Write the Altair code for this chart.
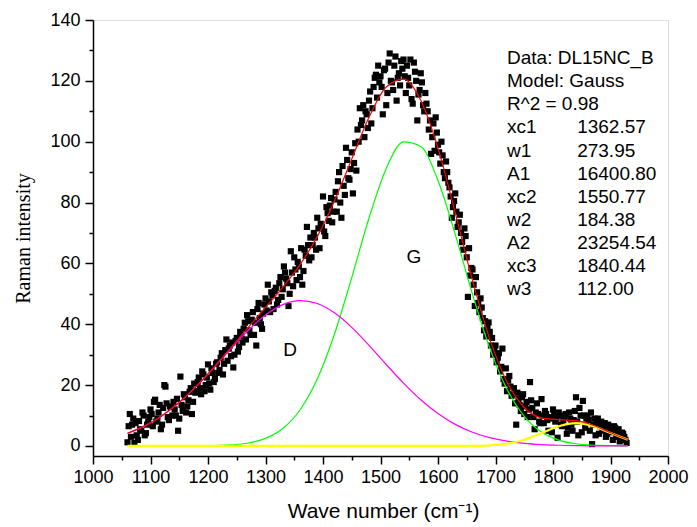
import altair as alt
import pandas as pd

curve_x = [1060, 1090, 1120, 1150, 1180, 1210, 1240, 1270, 1300, 1330,
           1360, 1390, 1420, 1450, 1480, 1510, 1540, 1570, 1600, 1630,
           1660, 1690, 1720, 1750, 1780, 1810, 1840, 1870, 1900, 1930]
peak_d = [4.17, 6.60, 9.96, 14.33, 19.65, 25.69, 32.01, 38.02, 43.04, 46.44,
          47.76, 46.82, 43.75, 38.97, 33.08, 26.77, 20.64, 15.18, 10.64, 7.10,
          4.52, 2.74, 1.59, 0.87, 0.46, 0.23, 0.11, 0.05, 0.02, 0.01]
peak_g = [0.00, 0.00, 0.00, 0.01, 0.03, 0.11, 0.34, 0.97, 2.49, 5.72,
          11.82, 21.99, 36.79, 55.35, 74.93, 91.23, 99.92, 98.44, 87.23, 69.53,
          49.86, 32.16, 18.66, 9.74, 4.57, 1.93, 0.73, 0.25, 0.08, 0.02]
peak_3 = [0.00, 0.00, 0.00, 0.00, 0.00, 0.00, 0.00, 0.00, 0.00, 0.00,
          0.00, 0.00, 0.00, 0.00, 0.00, 0.00, 0.00, 0.00, 0.00, 0.01,
          0.04, 0.20, 0.74, 2.04, 4.19, 6.47, 7.50, 6.52, 4.26, 2.09]
fit_total = [4.17, 6.60, 9.96, 14.34, 19.68, 25.80, 32.35, 38.99, 45.53, 52.16,
             59.58, 68.81, 80.54, 94.32, 108.01, 118.00, 120.56, 113.62, 97.87, 76.64,
             54.42, 35.10, 20.99, 12.65, 9.22, 8.63, 8.34, 6.82, 4.36, 2.12]

# ---- measured spectrum (black squares) ----
pts_x_a = list(range(1060, 1929, 4))
pts_y_a = [
    1.2, 10.5, 7.0, 1.0, 3.5, 8.2, 5.0, 10.0, 4.2, 8.0,
    12.0, 6.5, 15.2, 9.0, 13.5, 7.0, 20.0, 14.0, 8.5, 12.8,
    14.5, 10.0, 5.0, 22.8, 11.5, 16.0, 13.0, 17.8, 10.5, 20.5,
    18.0, 22.5, 17.0, 23.5, 20.0, 26.8, 18.5, 24.0, 22.0, 27.5,
    25.0, 30.5, 27.0, 35.0, 32.0, 29.5, 25.8, 34.5, 31.0, 37.5,
    34.0, 40.5, 43.0, 38.0, 41.5, 36.5, 33.0, 47.0, 40.0, 43.5,
    48.5, 53.0, 44.0, 49.5, 51.0, 46.5, 53.5, 49.0, 59.0, 55.0,
    46.0, 64.0, 52.5, 58.0, 60.5, 55.5, 53.0, 64.5, 72.0, 61.0,
    62.0, 70.0, 64.5, 71.5, 73.0, 82.0, 69.0, 76.5, 79.0, 73.5,
    81.0, 77.0, 90.0, 75.0, 85.5, 98.0, 88.0, 91.0, 83.0, 99.5,
    104.0, 111.0, 107.0, 101.5, 109.0, 113.5, 106.0, 118.0, 122.0, 125.0,
    121.5, 109.0, 124.0, 116.0, 129.0, 119.5, 125.0, 113.5, 122.5, 126.5,
    127.0, 116.0, 121.0, 127.0, 112.5, 123.0, 107.0, 117.0, 119.5, 110.0,
    112.5, 104.0, 96.0, 106.0, 108.0, 99.0, 92.8, 95.5, 88.0, 90.0,
    85.0, 75.0, 80.5, 77.0, 73.5, 70.0, 64.5, 69.0, 49.0, 56.0,
    58.0, 46.0, 50.5, 44.0, 45.5, 38.0, 36.0, 40.6, 33.0, 30.0,
    33.0, 29.0, 24.5, 32.0, 20.5, 18.0, 23.0, 16.5, 19.0, 7.0,
    15.5, 11.5, 17.0, 13.0, 9.5, 21.0, 12.5, 5.5, 14.0, 8.0,
    15.4, 7.5, 10.5, 5.0, 9.0, 12.0, 8.0, 2.7, 10.0, 6.5,
    9.5, 4.0, 11.0, 7.0, 8.5, 16.0, 3.5, 10.0, 14.8, 6.0,
    10.0, 5.0, 0.6, 9.0, 7.5, 4.0, 8.0, 6.0, 3.0, 7.0,
    5.5, 2.0, 6.0, 4.5, 1.5, 4.4, 3.0, 1.0,
]
pts_x_b = list(range(1062, 1927, 4))
pts_y_b = [
    6.5, 3.0, 9.0, 7.5, 2.0, 5.5, 11.0, 3.5, 7.0, 9.5,
    10.5, 14.5, 8.0, 11.0, 5.5, 12.5, 19.5, 9.5, 13.0, 10.0,
    12.0, 15.5, 9.0, 13.5, 17.0, 11.0, 15.0, 19.0, 14.5, 17.5,
    21.0, 19.0, 24.5, 18.0, 22.5, 20.5, 25.5, 21.0, 27.0, 24.0,
    29.0, 23.5, 31.5, 28.0, 33.0, 34.0, 30.0, 35.5, 32.5, 36.0,
    38.5, 35.0, 41.0, 36.5, 44.0, 40.5, 45.0, 42.0, 38.5, 46.5,
    44.5, 47.5, 50.5, 45.0, 52.0, 48.0, 55.5, 51.5, 57.0, 53.5,
    50.0, 57.0, 62.0, 54.5, 59.0, 65.0, 57.5, 62.5, 66.0, 68.5,
    66.0, 68.5, 75.0, 65.0, 72.0, 70.5, 78.5, 74.0, 81.5, 77.0,
    83.5, 87.0, 80.0, 92.0, 82.5, 94.0, 87.5, 96.5, 93.0, 90.5,
    100.0, 105.5, 112.0, 110.0, 104.5, 116.5, 111.0, 121.0, 114.5, 119.5,
    118.0, 123.5, 112.0, 126.0, 120.0, 117.0, 128.0, 121.0, 118.5, 124.0,
    121.5, 125.0, 118.5, 114.0, 126.0, 120.0, 115.5, 122.5, 112.0, 116.0,
    110.0, 107.0, 101.5, 97.0, 103.0, 96.5, 100.0, 90.0, 93.5, 86.5,
    82.0, 78.5, 83.0, 72.0, 76.0, 67.0, 71.5, 62.0, 65.0, 58.5,
    53.0, 55.5, 47.0, 48.5, 42.0, 41.0, 39.0, 37.5, 35.5, 31.5,
    27.5, 30.5, 26.0, 22.0, 25.5, 21.5, 19.5, 17.0, 14.0, 17.5,
    13.5, 16.0, 10.5, 14.5, 12.0, 15.0, 9.5, 11.0, 10.5, 7.5,
    10.0, 11.5, 8.5, 9.5, 4.5, 10.5, 9.0, 11.0, 7.0, 8.5,
    10.5, 6.0, 9.0, 5.0, 11.5, 8.0, 12.5, 4.5, 10.0, 9.0,
    8.5, 11.0, 7.0, 3.5, 9.0, 6.5, 5.0, 7.5, 4.0, 6.0,
    4.5, 6.5, 3.0, 5.5, 2.5, 4.0, 2.0,
]

# ---- text ----
ann_labels = ["Data: DL15NC_B", "Model: Gauss", "R^2 = 0.98", "xc1", "w1", "A1",
              "xc2", "w2", "A2", "xc3", "w3"]
ann_values = ["", "", "", "1362.57", "273.95", "16400.80", "1550.77", "184.38",
              "23254.54", "1840.44", "112.00"]
peak_names = ["D", "G"]
peak_pos_x = [1343, 1558]
peak_pos_y = [31.5, 62]

x_ticks = list(range(1000, 2001, 50))
y_ticks = list(range(0, 141, 10))

FONT = "Liberation Sans"

pts = pd.DataFrame({"x": pts_x_a + pts_x_b, "y": pts_y_a + pts_y_b})
curves = pd.DataFrame({"x": curve_x, "d": peak_d, "g": peak_g, "p3": peak_3, "fit": fit_total})
ann = pd.DataFrame({"row": list(range(len(ann_labels))), "label": ann_labels, "value": ann_values})
peaks = pd.DataFrame({"name": peak_names, "x": peak_pos_x, "y": peak_pos_y})

xscale = alt.Scale(domain=[1000, 2000], nice=False, zero=False)
yscale = alt.Scale(domain=[-3.3, 140], nice=False, zero=False)

axis_common = dict(grid=False, domainColor="black", tickColor="black", labelColor="black",
                   domainWidth=1.5, tickWidth=1.5, labelFont=FONT, labelFontSize=18,
                   titleColor="black", labelOverlap=False, labelFlush=False, format="d")

x_axis = alt.Axis(values=x_ticks,
                  tickSize={"condition": {"test": "datum.value % 100 === 0", "value": 8}, "value": 4},
                  labelExpr="datum.value % 100 === 0 ? datum.label : ''",
                  labelPadding=4,
                  title="Wave number (cm\u207b\u00b9)", titleFont=FONT, titleFontSize=21,
                  titleFontWeight="normal", titleX=290, titleY=55, titleBaseline="middle",
                  titleAlign="center", **axis_common)
y_axis = alt.Axis(values=y_ticks,
                  tickSize={"condition": {"test": "datum.value % 20 === 0", "value": 8}, "value": 4},
                  labelExpr="datum.value % 20 === 0 ? datum.label : ''",
                  labelPadding=5,
                  title="Raman intensity", titleFont="Liberation Serif", titleFontSize=20,
                  titleFontWeight="normal", titleX=-70, titleY=218, titleAngle=-90,
                  titleBaseline="middle", titleAlign="center", **axis_common)

points = alt.Chart(pts).mark_square(size=38, color="black", opacity=1).encode(
    x=alt.X("x:Q", scale=xscale, axis=x_axis),
    y=alt.Y("y:Q", scale=yscale, axis=y_axis),
)

def line(field, color, width):
    return alt.Chart(curves).mark_line(color=color, strokeWidth=width, interpolate="monotone").encode(
        x=alt.X("x:Q", scale=xscale, axis=x_axis),
        y=alt.Y(f"{field}:Q", scale=yscale, axis=y_axis),
    )

green = line("g", "#00FF00", 1.2)
magenta = line("d", "#FF00FF", 1.2)
yellow = line("p3", "#FFFF00", 2.2)
red = line("fit", "#FF0000", 1.2)

ann_left = alt.Chart(ann).transform_calculate(
    yy="127.5 - datum.row * 7.6", xx="1720"
).mark_text(align="left", baseline="middle", font=FONT, fontSize=19, color="black").encode(
    x=alt.X("xx:Q", scale=xscale, axis=x_axis),
    y=alt.Y("yy:Q", scale=yscale, axis=y_axis),
    text="label:N",
)
ann_right = alt.Chart(ann).transform_calculate(
    yy="127.5 - datum.row * 7.6", xx="1842"
).mark_text(align="left", baseline="middle", font=FONT, fontSize=19, color="black").encode(
    x=alt.X("xx:Q", scale=xscale, axis=x_axis),
    y=alt.Y("yy:Q", scale=yscale, axis=y_axis),
    text="value:N",
)

peak_text = alt.Chart(peaks).mark_text(align="center", baseline="middle", font=FONT, fontSize=19, color="black").encode(
    x=alt.X("x:Q", scale=xscale, axis=x_axis),
    y=alt.Y("y:Q", scale=yscale, axis=y_axis),
    text="name:N",
)

chart = alt.layer(points, green, magenta, yellow, red, ann_left, ann_right, peak_text).properties(
    width=575, height=436,
    padding={"left": 85, "top": 12, "right": 21, "bottom": 70},
    autosize=alt.AutoSizeParams(type="none"),
).configure_view(stroke=None).configure(background="white")

chart.save("out.html", embed_options={"renderer": "svg", "actions": False})
